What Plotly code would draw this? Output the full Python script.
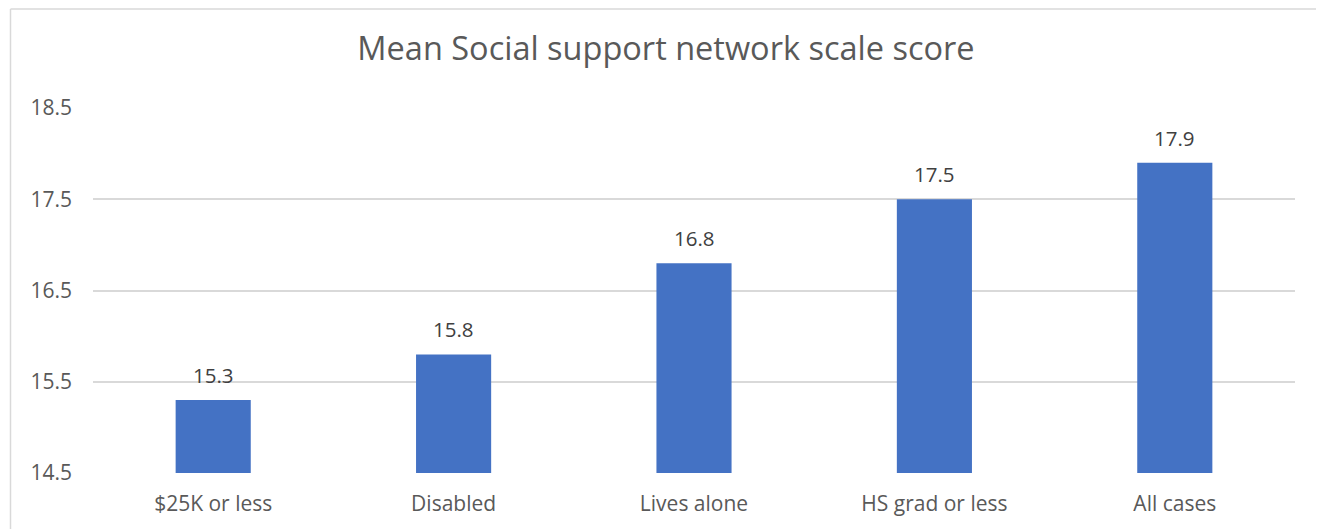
import plotly.graph_objects as go

categories = ["$25K or less", "Disabled", "Lives alone", "HS grad or less", "All cases"]
values = [15.3, 15.8, 16.8, 17.5, 17.9]
y_ticks = [14.5, 15.5, 16.5, 17.5, 18.5]
title_text = "Mean Social support network scale score"

FONT = "'Open Sans', Lato, sans-serif"

fig = go.Figure()
fig.add_trace(go.Bar(
    x=categories,
    y=values,
    marker=dict(color="#4472C4", line=dict(width=0)),
    hoverinfo="x+y",
))

# data labels above bars
for c, v in zip(categories, values):
    fig.add_annotation(
        x=c, y=v, xref="x", yref="y",
        text=f"{v:.1f}", showarrow=False,
        yanchor="middle", yshift=25,
        font=dict(family=FONT, size=20.5, color="#404040"),
    )

# page body has an 8px margin, so the figure is drawn 8px smaller
W, H = 1316, 521
ml, mr, mt, mb = 85, 29, 100, 56
pw = W - ml - mr
ph = H - mt - mb

def px_x(px):
    return (px - ml) / pw

def px_y(py):
    return (H - mb - py) / ph

fig.update_layout(
    width=W, height=H,
    margin=dict(l=ml, r=mr, t=mt, b=mb),
    paper_bgcolor="white",
    plot_bgcolor="white",
    bargap=0.6875,
    showlegend=False,
    font=dict(family=FONT, color="#595959"),
    title=dict(
        text=title_text,
        x=0.5, xanchor="center",
        y=1 - 41 / H, yanchor="middle",
        font=dict(family=FONT, size=32.5, color="#595959"),
    ),
    xaxis=dict(
        showgrid=False,
        showline=False,
        zeroline=False,
        ticks="",
        ticklabelstandoff=16,
        tickfont=dict(family=FONT, size=21, color="#595959"),
    ),
    yaxis=dict(
        range=[14.5, 18.5],
        tickvals=y_ticks,
        ticktext=[f"{t:.1f}" for t in y_ticks],
        showgrid=True,
        gridcolor="#D9D9D9",
        gridwidth=1.5,
        zeroline=False,
        showline=False,
        ticks="",
        ticklabelstandoff=20,
        tickfont=dict(family=FONT, size=21, color="#595959"),
    ),
    shapes=[
        dict(type="line", xref="paper", yref="paper",
             x0=px_x(2.5), x1=px_x(1315), y0=px_y(1), y1=px_y(1),
             line=dict(color="#D9D9D9", width=1.5)),
        dict(type="line", xref="paper", yref="paper",
             x0=px_x(2.5), x1=px_x(2.5), y0=px_y(1), y1=px_y(530),
             line=dict(color="#D9D9D9", width=1.5)),
        dict(type="line", xref="paper", yref="paper",
             x0=px_x(1315), x1=px_x(1315), y0=px_y(1), y1=px_y(530),
             line=dict(color="#D9D9D9", width=1.5)),
    ],
)

fig.write_html("out.html")
